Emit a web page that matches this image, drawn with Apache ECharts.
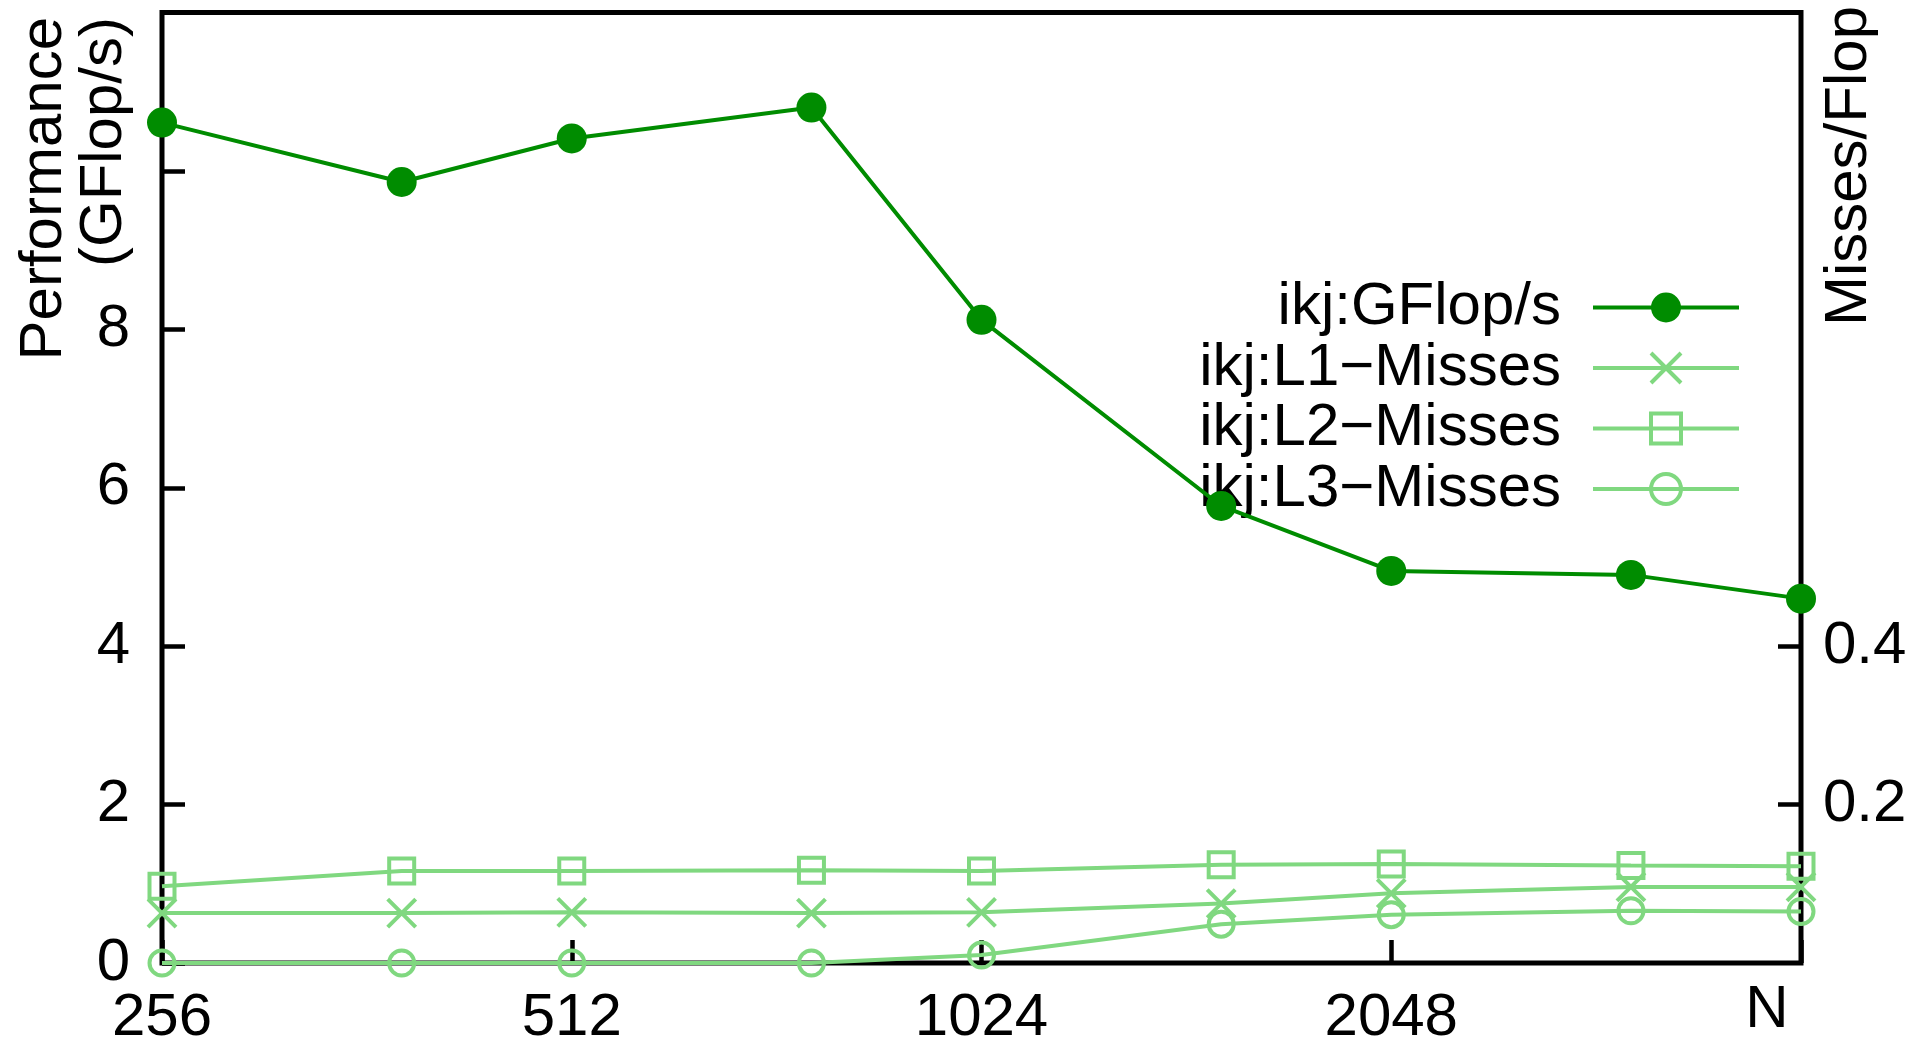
<!DOCTYPE html>
<html>
<head>
<meta charset="utf-8">
<title>ikj performance and cache misses</title>
<script src="https://cdn.jsdelivr.net/npm/echarts@6/dist/echarts.min.js"></script>
<style>
  html, body { margin: 0; padding: 0; background: #fff; }
  #chart { width: 1926px; height: 1048px; }
</style>
</head>
<body>
<div id="chart"></div>
<script>
// Problem size N (log2 x axis)
const sizes = [256, 384, 512, 768, 1024, 1536, 2048, 3072, 4096];
// Performance, GFlop/s (left axis)
const gflops = [10.61, 9.86, 10.41, 10.80, 8.12, 5.77, 4.95, 4.90, 4.60];
// Cache misses per flop (right axis)
const l1Misses = [0.063, 0.063, 0.064, 0.063, 0.064, 0.075, 0.088, 0.096, 0.096];
const l2Misses = [0.097, 0.116, 0.116, 0.117, 0.116, 0.124, 0.125, 0.123, 0.122];
const l3Misses = [0.000, 0.000, 0.000, 0.000, 0.010, 0.049, 0.061, 0.066, 0.065];
// Tick labels
const xTickLabels = [256, 512, 1024, 2048];
const yTickLabels = [0, 2, 4, 6, 8];
const yTickMarks = [0, 2, 4, 6, 8, 10];
const y2TickLabels = [0.2, 0.4];

const names = ['ikj:GFlop/s', 'ikj:L1\u2212Misses', 'ikj:L2\u2212Misses', 'ikj:L3\u2212Misses'];

const DARK = '#008c00';
const LIGHT = '#80d880';
const FONT = 'Liberation Sans, Arial, Helvetica, sans-serif';
const FS = 60;
const CROSS = 'path://M0,0L10,10M10,0L0,10';

const pairs = arr => sizes.map((n, i) => [n, arr[i]]);

const chart = echarts.init(document.getElementById('chart'), null, { renderer: 'canvas' });

const tickStyle = { show: true, inside: true, length: 23, lineStyle: { color: '#000', width: 4.5 } };

function missSeries(name, data, symbol, size) {
  return {
    name, type: 'line', yAxisIndex: 1, data: pairs(data),
    symbol, symbolSize: size, clip: false, silent: true,
    lineStyle: { color: LIGHT, width: 4 },
    itemStyle: { color: 'rgba(0,0,0,0)', borderColor: LIGHT, borderWidth: 4 },
    emphasis: { disabled: true }, z: 3
  };
}

function legendFor(name, centerY, borderWidth) {
  return {
    data: [name], orient: 'horizontal', align: 'right',
    right: 185, top: centerY - 30, padding: 0,
    itemWidth: 146, itemHeight: 37.5, selectedMode: false,
    textStyle: { fontFamily: FONT, fontSize: FS, color: '#000', padding: [0, 27, 0, 0] },
    lineStyle: { width: 4 },
    itemStyle: { borderWidth }
  };
}

chart.setOption({
  animation: false,
  backgroundColor: '#fff',
  textStyle: { fontFamily: FONT },
  grid: {
    left: 162, right: 125, top: 12.5, bottom: 80.5,
    show: true, borderColor: '#000', borderWidth: 5, backgroundColor: 'transparent'
  },
  legend: [
    legendFor(names[0], 307.5, 0),
    legendFor(names[1], 368, 4),
    legendFor(names[2], 428.5, 4),
    legendFor(names[3], 489, 4)
  ],
  xAxis: {
    type: 'log', logBase: 2, min: 256, max: 4096, interval: 1,
    name: 'N', nameLocation: 'end', nameGap: -34,
    nameTextStyle: { fontFamily: FONT, fontSize: FS, color: '#000', align: 'center', verticalAlign: 'top', padding: [17, 0, 0, 0] },
    axisLine: { show: false },
    axisTick: tickStyle,
    splitLine: { show: false },
    axisLabel: {
      customValues: xTickLabels, margin: 25,
      fontFamily: FONT, fontSize: FS, color: '#000',
      formatter: v => String(Math.round(v))
    }
  },
  yAxis: [
    {
      type: 'value', min: 0, max: 12, interval: 2, position: 'left',
      axisLine: { show: false },
      axisTick: Object.assign({ customValues: yTickMarks }, tickStyle),
      splitLine: { show: false },
      axisLabel: { customValues: yTickLabels, margin: 32, fontFamily: FONT, fontSize: FS, color: '#000' }
    },
    {
      type: 'value', min: 0, max: 1.2, interval: 0.2, position: 'right',
      axisLine: { show: false },
      axisTick: Object.assign({ customValues: y2TickLabels }, tickStyle),
      splitLine: { show: false },
      axisLabel: {
        customValues: y2TickLabels, margin: 22, fontFamily: FONT, fontSize: FS, color: '#000',
        formatter: v => v.toFixed(1)
      }
    }
  ],
  graphic: [
    {
      type: 'text', x: 74, y: 17, rotation: Math.PI / 2,
      style: {
        text: 'Performance\n(GFlop/s)', fontFamily: FONT, fontSize: FS, lineHeight: 60,
        fill: '#000', align: 'right', verticalAlign: 'middle'
      }
    },
    {
      type: 'text', x: 1849, y: 6, rotation: Math.PI / 2,
      style: {
        text: 'Misses/Flop', fontFamily: FONT, fontSize: FS,
        fill: '#000', align: 'right', verticalAlign: 'middle'
      }
    }
  ],
  series: [
    {
      name: names[0], type: 'line', yAxisIndex: 0, data: pairs(gflops),
      symbol: 'circle', symbolSize: 30, clip: false, silent: true,
      lineStyle: { color: DARK, width: 4 },
      itemStyle: { color: DARK },
      emphasis: { disabled: true }, z: 4
    },
    missSeries(names[1], l1Misses, CROSS, 28),
    missSeries(names[2], l2Misses, 'rect', 25),
    missSeries(names[3], l3Misses, 'circle', 25)
  ]
});
</script>
</body>
</html>
